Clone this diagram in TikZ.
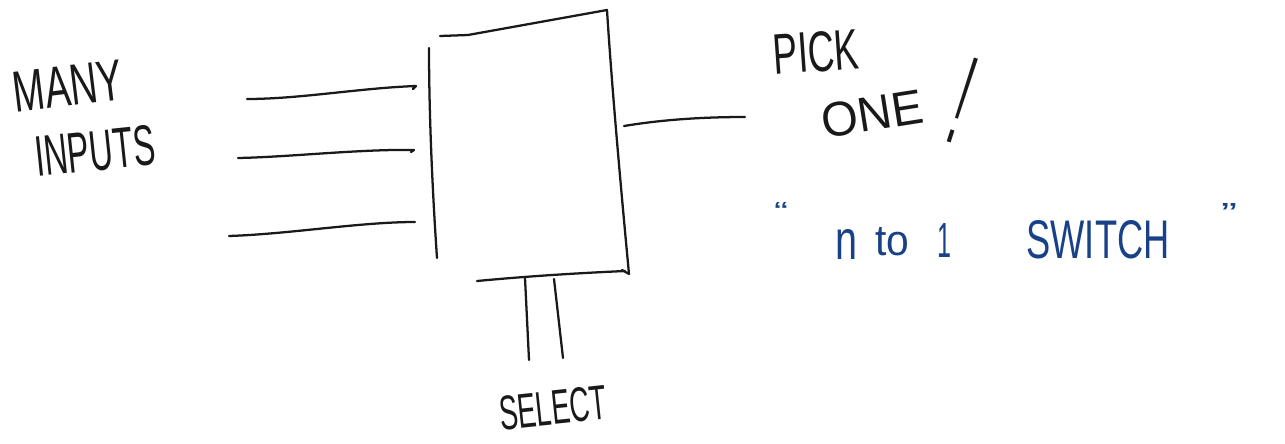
\documentclass[tikz,border=0pt]{standalone}
\usepackage{fontspec}
\setmainfont{Liberation Sans}
\definecolor{ink}{RGB}{25,25,25}
\definecolor{blueink}{RGB}{25,65,135}
\newcommand\hw[3]{\resizebox{\dimexpr0.75pt*#1\relax}{\dimexpr0.75pt*#2\relax}{#3}}
\tikzset{
  pen/.style={draw=ink, line width=1.7pt, line cap=round, line join=round},
  hand/.style={inner sep=0pt, outer sep=0pt, text=ink},
  bhand/.style={inner sep=0pt, outer sep=0pt, text=blueink}
}
\begin{document}
\begin{tikzpicture}[x=0.75pt,y=-0.75pt]
\useasboundingbox (0,0) rectangle (1285,443);
% box corners
\coordinate (tl) at (440,36);
\coordinate (tm) at (468,35);
\coordinate (tr) at (607,10);
\coordinate (br) at (629,274);
\coordinate (bl) at (477,281);
\coordinate (lt) at (429,48);
\coordinate (lb) at (437,258);
\draw[pen] (tl) -- (tm) -- (tr) .. controls (612,90) and (622,200) .. (br) -- (622,270);
\draw[pen] (bl) .. controls (530,276) and (580,273) .. (625,271);
\draw[pen] (lt) .. controls (429,120) and (433,200) .. (lb);
% inputs
\coordinate (i1s) at (247,99);  \coordinate (i1e) at (416,86);
\coordinate (i2s) at (238,158); \coordinate (i2e) at (414,150);
\coordinate (i3s) at (229,236); \coordinate (i3e) at (415,222);
\draw[pen] (i1s) .. controls (300,99) and (360,88) .. (i1e) -- (413,89);
\draw[pen] (i2s) .. controls (290,157) and (360,149) .. (i2e) -- (411,152);
\draw[pen] (i3s) .. controls (290,234) and (360,222) .. (i3e);
% output
\coordinate (os) at (624,126); \coordinate (oe) at (745,117);
\draw[pen] (os) .. controls (660,120) and (700,117) .. (oe);
% select
\coordinate (s1s) at (525,278); \coordinate (s1e) at (529,360);
\coordinate (s2s) at (554,279); \coordinate (s2e) at (563,358);
\draw[pen] (s1s) -- (s1e);
\draw[pen] (s2s) -- (s2e);
% labels
\node[hand, rotate=7] (many) at (68,86) {\hw{110}{40}{MANY}};
\node[hand, rotate=6] (inputs) at (95,151) {\hw{120}{40}{INPUTS}};
\node[hand, rotate=4] (pick) at (816,52) {\hw{86}{40}{PICK}};
\node[hand, rotate=9] (one) at (872,114) {\hw{102}{34}{ONE}};
\node[hand, rotate=-18] (excl) at (963,100) {\hw{12}{88}{!}};
\node[hand, rotate=6] (select) at (553,408) {\hw{108}{34}{SELECT}};
% blue
\node[bhand] (q1) at (781,211) {\hw{14}{18}{\char"201C}};
\node[bhand] (n) at (846,244) {\hw{22}{30}{n}};
\node[bhand] (to) at (892,242) {\hw{34}{28}{to}};
\node[bhand] (one1) at (944,240) {\hw{14}{34}{1}};
\node[bhand] (sw) at (1098,240) {\hw{143}{38}{SWITCH}};
\node[bhand] (q2) at (1229,213) {\hw{16}{20}{\char"201D}};
\end{tikzpicture}
\end{document}
